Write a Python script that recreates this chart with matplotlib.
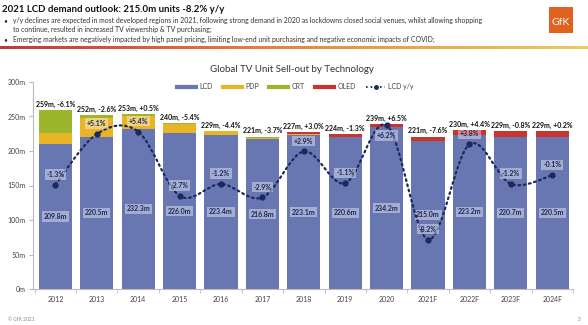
import numpy as np
import matplotlib.pyplot as plt
from matplotlib.path import Path
from matplotlib.patches import PathPatch, Rectangle
from matplotlib.lines import Line2D
from matplotlib.colors import LinearSegmentedColormap

plt.rcParams['font.family'] = ['Lato', 'DejaVu Sans']

years = ['2012', '2013', '2014', '2015', '2016', '2017', '2018', '2019', '2020',
         '2021F', '2022F', '2023F', '2024F']
lcd = [209.8, 220.5, 232.3, 226.0, 223.4, 216.8, 223.1, 220.6, 234.2, 215.0, 223.2, 220.7, 220.5]
pdp = [16.0, 28.0, 18.0, 13.0, 5.0, 2.5, 1.4, 0, 0, 0, 0, 0, 0]
crt = [33.2, 3.5, 2.7, 1.0, 0.3, 0.7, 0, 0, 0, 0, 0, 0, 0]
oled = [0, 0, 0, 0, 0.3, 1.0, 2.5, 3.4, 4.8, 6.0, 6.8, 8.3, 8.5]
lcd_yoy = [-1.3, 5.1, 5.4, -2.7, -1.2, -2.9, 2.9, -1.1, 6.2, -8.2, 3.8, -1.2, -0.1]
total_labels = ['259m, -6.1%', '252m, -2.6%', '253m, +0.5%', '240m, -5.4%', '229m, -4.4%',
                '221m, -3.7%', '227m, +3.0%', '224m, -1.3%', '239m, +6.5%', '221m, -7.6%',
                '230m, +4.4%', '229m, -0.8%', '229m, +0.2%']

c_lcd = '#6876B2'
c_pdp = '#E8B526'
c_crt = '#9BB62C'
c_oled = '#C9342C'
c_navy = '#1B2A5C'

fig = plt.figure(figsize=(5.88, 3.25), dpi=100)

# header
fig.text(0.004, 0.985, '2021 LCD demand outlook: 215.0m units -8.2% y/y', fontsize=6.9,
         fontweight='bold', va='top', ha='left', color='#111111')
bullets = [
    'y/y declines are expected in most developed regions in 2021, following strong demand in 2020 as lockdowns closed social venues, whilst allowing shopping',
    'to continue, resulted in increased TV viewership & TV purchasing;',
    'Emerging markets are negatively impacted by high panel pricing, limiting low-end unit purchasing and negative economic impacts of COVID;',
]
ys = [0.947, 0.919, 0.889]
for i, (t, y) in enumerate(zip(bullets, ys)):
    if i != 1:
        fig.text(0.006, y, '\u2022', fontsize=4.8, va='top', color='#333333')
    fig.text(0.022, y, t, fontsize=4.95, va='top', ha='left', color='#333333')

# logo
logo = fig.add_axes([549 / 588, 1 - 33 / 325, 24 / 588, 26 / 325])
logo.add_patch(Rectangle((0, 0), 1, 1, color='#E0621F'))
logo.text(0.5, 0.42, 'GfK', color='white', fontsize=7.5, ha='center', va='center')
logo.set_xlim(0, 1)
logo.set_ylim(0, 1)
logo.axis('off')

# gradient separator
grad = fig.add_axes([0, 1 - 49 / 325, 1, 3 / 325])
cmap = LinearSegmentedColormap.from_list('g', ['#C0383F', '#DE6E3A', '#E8A24A', '#EBCB5E'])
grad.imshow(np.linspace(0, 1, 256)[None, :], aspect='auto', cmap=cmap)
grad.axis('off')

# chart
ax = fig.add_axes([33 / 588, 1 - 289 / 325, 540 / 588, 207 / 325])
x = np.arange(len(years))
w = 0.8
ax.bar(x, lcd, w, color=c_lcd, label='LCD', zorder=2)
b1 = np.array(lcd)
ax.bar(x, pdp, w, bottom=b1, color=c_pdp, label='PDP', zorder=2)
b2 = b1 + np.array(pdp)
ax.bar(x, crt, w, bottom=b2, color=c_crt, label='CRT', zorder=2)
b3 = b2 + np.array(crt)
ax.bar(x, oled, w, bottom=b3, color=c_oled, label='OLED', zorder=2)
tops = b3 + np.array(oled)

box = dict(boxstyle='square,pad=0.25', facecolor='white', alpha=0.4, edgecolor='none')
for i in range(len(years)):
    ax.text(x[i], lcd[i] / 2, f'{lcd[i]:.1f}m', ha='center', va='center', fontsize=5,
            fontweight='bold', color=c_navy, bbox=box, zorder=5)
    ax.annotate(total_labels[i], (x[i], tops[i]), xytext=(0, 1.5), textcoords='offset points',
                ha='center', va='bottom', fontsize=5, fontweight='bold', color='#111111')

ax.set_xlim(-0.54, len(years) - 0.5)
ax.set_ylim(0, 300)
ax.set_yticks(np.arange(0, 301, 50))
ax.set_yticklabels([f'{v}m' for v in range(0, 301, 50)])
ax.set_xticks(x)
ax.set_xticklabels(years)
ax.set_xticks(np.arange(len(years) + 1) - 0.5, minor=True)
ax.tick_params(axis='x', which='major', length=0, pad=5, labelsize=5, labelcolor='#444444')
ax.tick_params(axis='x', which='minor', length=3, color='#BBBBBB')
ax.tick_params(axis='y', length=3, color='#BBBBBB', labelsize=5, labelcolor='#444444', pad=2)
for s in ['top', 'right']:
    ax.spines[s].set_visible(False)
for s in ['left', 'bottom']:
    ax.spines[s].set_color('#BBBBBB')
    ax.spines[s].set_linewidth(0.8)

# LCD y/y on hidden secondary axis, smooth dotted line
ax2 = ax.twinx()
ax2.set_ylim(-166 / 11.5, (300 - 166) / 11.5)
ax2.axis('off')
pts = np.column_stack([x, lcd_yoy]).astype(float)
ext = np.vstack([pts[0], pts, pts[-1]])
verts = [tuple(pts[0])]
codes = [Path.MOVETO]
for i in range(len(pts) - 1):
    p0, p1, p2, p3 = ext[i], ext[i + 1], ext[i + 2], ext[i + 3]
    verts += [tuple(p1 + (p2 - p0) / 6), tuple(p2 - (p3 - p1) / 6), tuple(p2)]
    codes += [Path.CURVE4] * 3
ax2.add_patch(PathPatch(Path(verts, codes), fill=False, edgecolor=c_navy, lw=1.6,
                        linestyle=(0, (0.8, 1.6)), capstyle='round', zorder=6))
ax2.plot(x, lcd_yoy, 'o', color=c_navy, ms=3.5, zorder=7)
for i, v in enumerate(lcd_yoy):
    below = years[i] == '2020'
    ax2.annotate(f'{v:+.1f}%', (x[i], v), xytext=(0, -5 if below else 5),
                 textcoords='offset points', ha='center', va='top' if below else 'bottom',
                 fontsize=5, fontweight='bold', color=c_navy, bbox=box, zorder=8)

handles = [Line2D([], [], color=c_lcd, lw=3), Line2D([], [], color=c_pdp, lw=3),
           Line2D([], [], color=c_crt, lw=3), Line2D([], [], color=c_oled, lw=3),
           Line2D([], [], color=c_navy, lw=1.4, ls=(0, (0.8, 1.6)), marker='o', ms=2.5)]
ax.legend(handles, ['LCD', 'PDP', 'CRT', 'OLED', 'LCD y/y'], loc='center', ncol=5,
          bbox_to_anchor=(0.486, 0.976), frameon=False, fontsize=5, handlelength=2.7,
          columnspacing=1.5, handletextpad=0.5, labelcolor='#444444')

fig.text(292 / 588, 1 - 70 / 325, 'Global TV Unit Sell-out by Technology', ha='center',
         va='center', fontsize=7, color='#333333')
fig.text(0.013, 0.012, '\u00a9 GfK 2021', fontsize=3.5, color='#888888')
fig.text(0.982, 0.012, '3', fontsize=3.5, color='#888888')

fig.savefig('out.png', dpi=100)
